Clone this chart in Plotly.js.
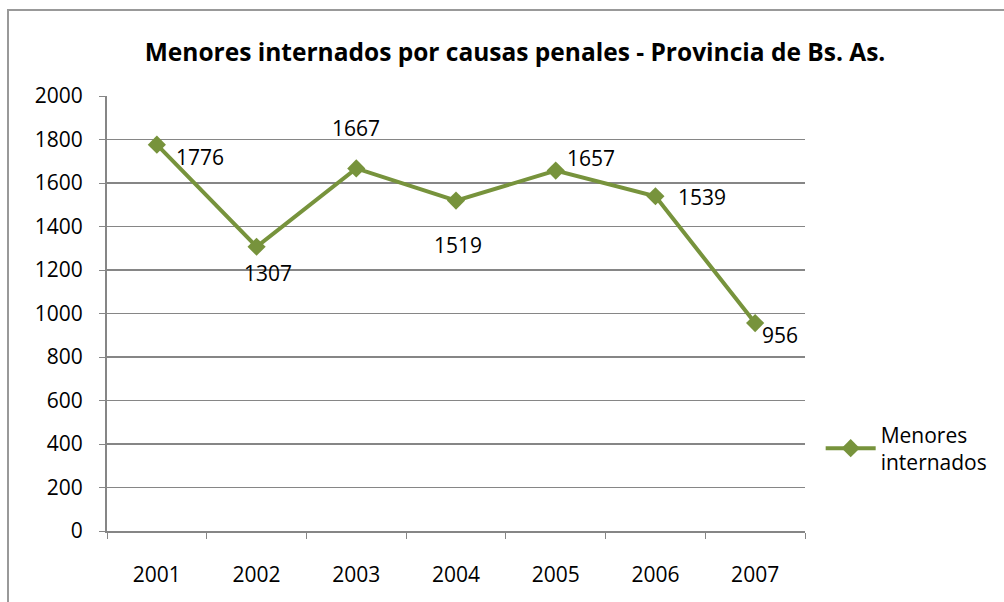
<!DOCTYPE html>
<html>
<head>
<meta charset="utf-8">
<script src="https://cdn.plot.ly/plotly-3.0.1.min.js"></script>
<style>
  html, body { margin: 0; padding: 0; background: #fff; }
  #wrap { position: relative; width: 1004px; height: 602px; overflow: hidden; }
  #chart { width: 1004px; height: 602px; }
  #frame { position: absolute; left: 7px; top: 9px; width: 1100px; height: 700px;
           border-left: 2px solid #999; border-top: 2px solid #999; pointer-events: none; }
</style>
</head>
<body>
<div id="wrap">
  <div id="chart"></div>
  <div id="frame"></div>
</div>
<script>
const years = ['2001', '2002', '2003', '2004', '2005', '2006', '2007'];
const menores = [1776, 1307, 1667, 1519, 1657, 1539, 956];
const seriesName = 'Menores<br>internados';
const yTicks = [0, 200, 400, 600, 800, 1000, 1200, 1400, 1600, 1800, 2000];

// label offsets (px) relative to each point, styling only
const labelShift = [[43, -12], [11, -26], [0, 40], [2, -44], [35, 13], [47, -1], [25, -12]];

const green = '#77933C';
const fontFam = '"Open Sans", "Noto Sans", sans-serif';

const annotations = years.map((y, i) => ({
  x: i, y: menores[i], xref: 'x', yref: 'y',
  text: String(menores[i]), showarrow: false,
  xshift: labelShift[i][0], yshift: labelShift[i][1],
  font: { family: fontFam, size: 21, color: '#000' }
}));

const trace = {
  x: years, y: menores, type: 'scatter', mode: 'lines+markers',
  name: seriesName,
  line: { color: green, width: 4 },
  marker: { symbol: 'diamond', size: 14, color: green }
};

const layout = {
  width: 1004, height: 602,
  margin: { l: 107, r: 198, t: 96, b: 71 },
  paper_bgcolor: '#fff', plot_bgcolor: '#fff',
  font: { family: fontFam, size: 21, color: '#000' },
  title: {
    text: '<b>Menores internados por causas penales - Provincia de Bs. As.</b>',
    xref: 'container', x: 0.513, xanchor: 'center',
    yref: 'container', y: 0.913, yanchor: 'middle',
    font: { family: fontFam, size: 24.5, color: '#000' }
  },
  xaxis: {
    type: 'category', range: [-0.5, 6.5], tickson: 'boundaries',
    showgrid: false, showline: true, linecolor: '#868686', linewidth: 2,
    ticks: 'outside', ticklen: 6, tickcolor: '#868686', tickwidth: 1,
    tickfont: { family: fontFam, size: 21, color: '#000' }, zeroline: false,
    ticklabelstandoff: 24
  },
  yaxis: {
    range: [0, 2000], tickvals: yTicks, ticktext: yTicks.map(String),
    showgrid: true, gridcolor: '#868686', gridwidth: 1.6,
    showline: true, linecolor: '#868686', linewidth: 2,
    ticks: 'outside', ticklen: 6, tickcolor: '#868686', tickwidth: 1,
    tickfont: { family: fontFam, size: 21, color: '#000' }, zeroline: false,
    ticklabelstandoff: 12
  },
  showlegend: true,
  legend: {
    x: 1.021, xanchor: 'left', y: 0.19, yanchor: 'middle',
    font: { family: fontFam, size: 21, color: '#000' },
    itemwidth: 50, bgcolor: 'rgba(0,0,0,0)'
  },
  annotations: annotations
};

Plotly.newPlot('chart', [trace], layout, { displayModeBar: false, staticPlot: true });
</script>
</body>
</html>
